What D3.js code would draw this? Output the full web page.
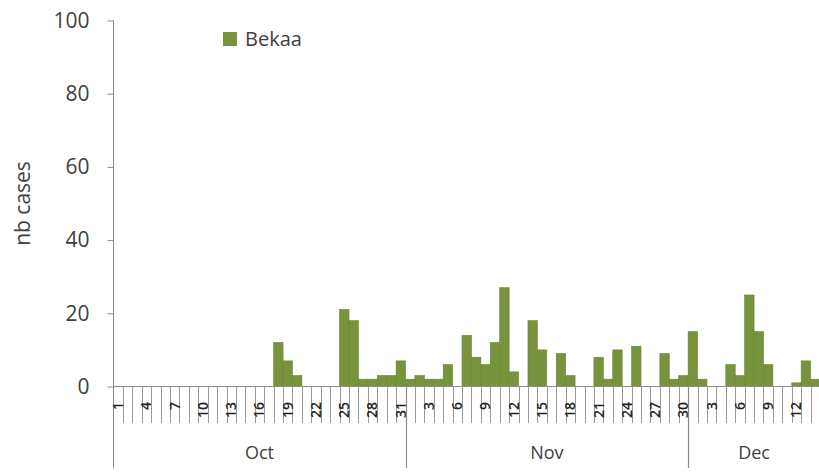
<!DOCTYPE html>
<html>
<head>
<meta charset="utf-8">
<script src="https://cdn.jsdelivr.net/npm/d3@7"></script>
<style>
  html, body { margin: 0; padding: 0; background: #fff; }
  svg { display: block; font-family: "Open Sans", "Noto Sans", sans-serif; }
</style>
</head>
<body>
<svg id="chart" width="819" height="475"></svg>
<script>
// ---- data ----
const seriesName = "Bekaa";
const months = ["Oct", "Nov", "Dec"];
const monthDays = [31, 30, 14];
const octValues = [0,0,0,0,0,0,0,0,0,0,0,0,0,0,0,0,0,12,7,3,0,0,0,0,21,18,2,2,3,3,7];
const novValues = [2,3,2,2,6,0,14,8,6,12,27,4,0,18,10,0,9,3,0,0,8,2,10,0,11,0,0,9,2,3];
const decValues = [15,2,0,0,6,3,25,15,6,0,0,1,7,2];
const yTicks = [0, 20, 40, 60, 80, 100];
const yLabel = "nb cases";

(function () {
// ---- build day records ----
const monthValues = [octValues, novValues, decValues];
const days = [];
months.forEach((m, mi) => {
  monthValues[mi].forEach((v, di) => {
    days.push({ key: m + "-" + (di + 1), month: m, day: di + 1, value: v, idx: days.length });
  });
});

// ---- layout ----
const pLeft = 113.5, pRight = 820, pTop = 20.5, base = 386.5;
const svg = d3.select("#chart");

const x = d3.scaleBand().domain(days.map(d => d.key)).range([pLeft, pRight]).padding(0);
const y = d3.scaleLinear().domain([0, 100]).range([base, pTop]);

const barColor = "#77933c";
const axisColor = "#8c8c8c";
const textColor = "#404040";

// bars
svg.append("g").selectAll("rect").data(days.filter(d => d.value > 0)).join("rect")
  .attr("x", d => x(d.key))
  .attr("y", d => y(d.value))
  .attr("width", x.bandwidth())
  .attr("height", d => base - y(d.value))
  .attr("fill", barColor)
  .attr("stroke", "#6b8634")
  .attr("stroke-width", 0.6);

// y axis
const yAxis = svg.append("g")
  .attr("transform", `translate(${pLeft},0)`)
  .call(d3.axisLeft(y).tickValues(yTicks).tickSize(6).tickPadding(18));
yAxis.select(".domain").attr("stroke", axisColor).attr("d", `M0,${pTop}V468`);
yAxis.selectAll(".tick line").attr("stroke", axisColor);
yAxis.selectAll(".tick text")
  .attr("fill", textColor)
  .style("font-size", "21px")
  .style("font-family", "'Open Sans', sans-serif");

// y label
svg.append("text")
  .attr("transform", `translate(30,${(pTop + base) / 2}) rotate(-90)`)
  .attr("text-anchor", "middle")
  .attr("fill", textColor)
  .style("font-size", "21px")
  .text(yLabel);

// x baseline
svg.append("line")
  .attr("x1", pLeft).attr("x2", pRight)
  .attr("y1", base).attr("y2", base)
  .attr("stroke", axisColor).attr("stroke-width", 1.2);

// day separators
const gx = svg.append("g");
gx.selectAll("line.day").data(days.slice(1)).join("line")
  .attr("class", "day")
  .attr("x1", d => Math.round(x(d.key)) + 0.5)
  .attr("x2", d => Math.round(x(d.key)) + 0.5)
  .attr("y1", base).attr("y2", 423)
  .attr("stroke", "#999").attr("stroke-width", 1);

// day labels (every 3rd day in the sequence)
gx.selectAll("text.day").data(days.filter(d => d.idx % 3 === 0)).join("text")
  .attr("class", "day")
  .attr("transform", d => `translate(${x(d.key) + x.bandwidth() / 2},402) rotate(-90)`)
  .attr("text-anchor", "end")
  .attr("dy", "0.35em")
  .attr("fill", "#222")
  .style("font-size", "14px")
  .style("font-weight", "600")
  .text(d => d.day);

// month separators & labels
let start = 0;
const monthInfo = months.map((m, i) => {
  const first = days[start];
  const last = days[start + monthDays[i] - 1];
  start += monthDays[i];
  return { m, x0: x(first.key), x1: x(last.key) + x.bandwidth() };
});
gx.selectAll("line.month").data(monthInfo).join("line")
  .attr("class", "month")
  .attr("x1", d => Math.round(d.x1) + 0.5)
  .attr("x2", d => Math.round(d.x1) + 0.5)
  .attr("y1", base).attr("y2", 468)
  .attr("stroke", axisColor).attr("stroke-width", 1.2);
gx.selectAll("text.month").data(monthInfo).join("text")
  .attr("class", "month")
  .attr("x", d => (d.x0 + d.x1) / 2)
  .attr("y", 459)
  .attr("text-anchor", "middle")
  .attr("fill", textColor)
  .style("font-size", "18px")
  .text(d => d.m);

// legend
const lg = svg.append("g").attr("transform", "translate(223,32)");
lg.append("rect").attr("width", 14).attr("height", 14).attr("fill", barColor);
lg.append("text").attr("x", 22).attr("y", 14)
  .attr("fill", textColor)
  .style("font-size", "20px")
  .text(seriesName);
})();
</script>
</body>
</html>
